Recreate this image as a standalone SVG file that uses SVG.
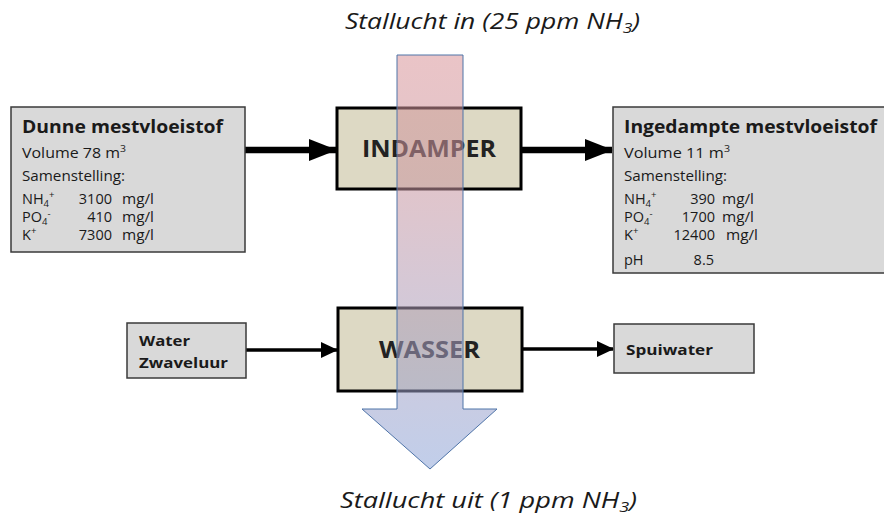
<svg xmlns="http://www.w3.org/2000/svg" width="884" height="513" viewBox="0 0 884 513">
<style>
text{font-family:"Open Sans","Noto Sans","Liberation Sans",sans-serif;fill:#1a1a1a}
.info{fill:#d9d9d9;stroke:#3a3a3a;stroke-width:1.5}
.proc{fill:#ddd9c4;stroke:#000;stroke-width:3}
.title{font-size:17px;font-weight:bold}
.body{font-size:14.5px}
.small{font-size:15px;font-weight:bold}
.big{font-size:24px;font-weight:bold;fill:#222}
.ital{font-size:21px;font-style:italic}
.sub{font-size:9.5px}
.r{text-anchor:end}
</style>
<defs>
<marker id="ah" viewBox="0 0 28 22" refX="27" refY="11" markerWidth="28" markerHeight="22" orient="auto" markerUnits="userSpaceOnUse"><path d="M0,0 L28,11 L0,22 Z" fill="#000"/></marker>
<marker id="ah2" viewBox="0 0 17 16" refX="16" refY="8" markerWidth="17" markerHeight="16" orient="auto" markerUnits="userSpaceOnUse"><path d="M0,0 L17,8 L0,16 Z" fill="#000"/></marker>
<linearGradient id="air" x1="0" y1="55" x2="0" y2="469" gradientUnits="userSpaceOnUse">
<stop offset="0" stop-color="#d99499" stop-opacity="0.55"/>
<stop offset="0.3" stop-color="#c9959f" stop-opacity="0.55"/>
<stop offset="1" stop-color="#8ea6d9" stop-opacity="0.55"/>
</linearGradient>
</defs>

<g id="connectors" stroke="#000" fill="none">
<line x1="245" y1="150" x2="336" y2="150" stroke-width="6.5" marker-end="url(#ah)"/>
<line x1="521" y1="150" x2="612" y2="150" stroke-width="6.5" marker-end="url(#ah)"/>
<line x1="246" y1="350" x2="337" y2="350" stroke-width="3.5" marker-end="url(#ah2)"/>
<line x1="523" y1="349" x2="613" y2="349" stroke-width="3.5" marker-end="url(#ah2)"/>
</g>

<g id="dunne">
<rect class="info" x="11" y="107" width="234" height="145"/>
<text class="title" x="22" y="133" textLength="201" lengthAdjust="spacingAndGlyphs">Dunne mestvloeistof</text>
<text class="body" x="22" y="158" textLength="104" lengthAdjust="spacingAndGlyphs">Volume  78 m<tspan class="sub" dy="-6">3</tspan></text>
<text class="body" x="22" y="181" textLength="103" lengthAdjust="spacingAndGlyphs">Samenstelling:</text>
<text class="body" x="22" y="204">NH<tspan class="sub" dy="3">4</tspan><tspan class="sub" dy="-9">+</tspan></text>
<text class="body" x="22" y="222">PO<tspan class="sub" dy="3">4</tspan><tspan class="sub" dy="-8">-</tspan></text>
<text class="body" x="22" y="240">K<tspan class="sub" dy="-6">+</tspan></text>
<text class="body r" x="112" y="204">3100</text>
<text class="body r" x="112" y="222">410</text>
<text class="body r" x="112" y="240">7300</text>
<text class="body" x="122" y="204" textLength="32" lengthAdjust="spacingAndGlyphs">mg/l</text>
<text class="body" x="122" y="222" textLength="32" lengthAdjust="spacingAndGlyphs">mg/l</text>
<text class="body" x="122" y="240" textLength="32" lengthAdjust="spacingAndGlyphs">mg/l</text>
</g>

<g id="ingedampte">
<rect class="info" x="613" y="107" width="275" height="166"/>
<text class="title" x="624" y="133" textLength="253" lengthAdjust="spacingAndGlyphs">Ingedampte mestvloeistof</text>
<text class="body" x="624" y="158" textLength="106" lengthAdjust="spacingAndGlyphs">Volume  11 m<tspan class="sub" dy="-6">3</tspan></text>
<text class="body" x="624" y="181" textLength="103" lengthAdjust="spacingAndGlyphs">Samenstelling:</text>
<text class="body" x="624" y="204">NH<tspan class="sub" dy="3">4</tspan><tspan class="sub" dy="-9">+</tspan></text>
<text class="body" x="624" y="222">PO<tspan class="sub" dy="3">4</tspan><tspan class="sub" dy="-8">-</tspan></text>
<text class="body" x="624" y="240">K<tspan class="sub" dy="-6">+</tspan></text>
<text class="body" x="624" y="265">pH</text>
<text class="body r" x="715" y="204">390</text>
<text class="body r" x="715" y="222">1700</text>
<text class="body r" x="715" y="240">12400</text>
<text class="body r" x="714" y="265">8.5</text>
<text class="body" x="722" y="204" textLength="32" lengthAdjust="spacingAndGlyphs">mg/l</text>
<text class="body" x="722" y="222" textLength="32" lengthAdjust="spacingAndGlyphs">mg/l</text>
<text class="body" x="726" y="240" textLength="32" lengthAdjust="spacingAndGlyphs">mg/l</text>
</g>

<g id="water">
<rect class="info" x="127" y="323" width="119" height="55"/>
<text class="small" x="139" y="346" textLength="51" lengthAdjust="spacingAndGlyphs">Water</text>
<text class="small" x="139" y="368" textLength="89" lengthAdjust="spacingAndGlyphs">Zwaveluur</text>
</g>

<g id="spuiwater">
<rect class="info" x="614" y="324" width="140" height="49"/>
<text class="small" x="626" y="355" textLength="87" lengthAdjust="spacingAndGlyphs">Spuiwater</text>
</g>

<g id="indamper">
<rect class="proc" x="337" y="108" width="184" height="81"/>
<text class="big" x="362" y="157" textLength="134" lengthAdjust="spacingAndGlyphs">INDAMPER</text>
</g>

<g id="wasser">
<rect class="proc" x="338" y="308" width="184" height="83"/>
<text class="big" x="379" y="358" textLength="101" lengthAdjust="spacingAndGlyphs">WASSER</text>
</g>

<g id="stallucht">
<path d="M397,55 L463,55 L463,409 L497,409 L430,469 L362,409 L397,409 Z" fill="url(#air)" stroke="#4f74a8" stroke-width="1"/>
<text class="ital" x="345" y="29" textLength="295" lengthAdjust="spacingAndGlyphs">Stallucht in (25 ppm NH<tspan style="font-size:14px" dy="4">3</tspan><tspan dy="-4">)</tspan></text>
<text class="ital" x="340" y="508" textLength="297" lengthAdjust="spacingAndGlyphs">Stallucht uit (1 ppm NH<tspan style="font-size:14px" dy="4">3</tspan><tspan dy="-4">)</tspan></text>
</g>
</svg>
